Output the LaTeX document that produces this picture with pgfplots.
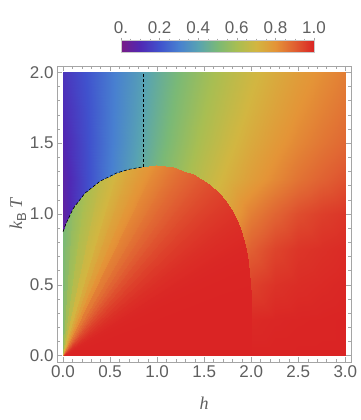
\documentclass[border=0pt]{standalone}
\usepackage{pgfplots}
\pgfplotsset{compat=1.18}
\usepackage{fontspec}
\setmainfont{Liberation Sans}
\newfontfamily\serifit{Liberation Serif}
\definecolor{lab}{RGB}{95,95,95}
\definecolor{frm}{RGB}{165,165,165}
\pgfplotsset{colormap={mmarainbow}{rgb255(0cm)=(120,28,134) rgb255(1cm)=(80,40,180) rgb255(2cm)=(64,82,205) rgb255(3cm)=(72,128,208) rgb255(4cm)=(88,163,178) rgb255(5cm)=(122,185,118) rgb255(6cm)=(168,190,82) rgb255(7cm)=(210,182,65) rgb255(8cm)=(228,148,55) rgb255(9cm)=(224,95,50) rgb255(10cm)=(218,36,36)}}
\begin{document}
\begin{tikzpicture}
\begin{axis}[
  at={(0,0)}, anchor=south west,
  scale only axis, width=294pt, height=296pt,
  xmin=-0.064, xmax=3.06, ymin=-0.045, ymax=2.045,
  xtick={0,0.5,1,1.5,2,2.5,3}, ytick={0,0.5,1,1.5,2},
  minor x tick num=4, minor y tick num=4,
  tick align=inside, major tick length=5pt, minor tick length=3pt,
  axis line style={frm}, every tick/.style={frm},
  /pgf/number format/assume math mode=true,
  /pgf/number format/.cd, fixed, fixed zerofill, precision=1, /pgfplots/.cd,
  ticklabel style={font=\fontsize{17}{19}\selectfont, text=lab},
  axis on top,
  colormap name=mmarainbow, point meta min=0, point meta max=1,
  colorbar horizontal,
  colorbar style={
    at={(parent axis.north west)}, anchor=south west, xshift=64pt, yshift=22pt,
    scale only axis, width=193pt, height=12pt,
    xtick={0,0.2,0.4,0.6,0.8,1}, xticklabels={0.,0.2,0.4,0.6,0.8,1.0},
    minor x tick num=3, xtick pos=right, xticklabel pos=upper,
    tick align=outside, major tick length=3pt, minor tick length=2pt,
    axis line style={frm!60}, every tick/.style={frm},
    ticklabel style={font=\fontsize{17}{19}\selectfont, text=lab},
  },
  every axis x label/.style={at={(axis description cs:0.5,-0.1385)}, anchor=center, text=lab},
  every axis y label/.style={at={(axis description cs:-0.1327,0.5)}, anchor=center, rotate=90, text=lab},
  xlabel={\fontsize{18}{20}\selectfont\serifit\itshape h},
  ylabel={\fontsize{18}{20}\selectfont{\serifit\itshape k}\raisebox{-0.22em}{\fontsize{13}{14}\selectfont B}\hspace{0.25em}{\serifit\itshape T}},
]
% outer field: columns h, T, value
\addplot[surf, shader=interp, mesh/rows=9, point meta=explicit] table[x index=0, y index=1, meta index=2] {
0 0 0.02
0.25 0 1
0.5 0 1
0.75 0 1
1 0 1
1.25 0 1
1.5 0 1
1.75 0 1
2 0 1
2.25 0 1
2.5 0 1
2.75 0 1
3 0 1
0 0.25 0.03
0.25 0.25 0.290
0.5 0.25 0.515
0.75 0.25 0.687
1 0.25 0.806
1.25 0.25 0.884
1.5 0.25 0.935
1.75 0.25 0.970
2 0.25 0.990
2.25 0.25 0.995
2.5 0.25 0.997
2.75 0.25 0.998
3 0.25 1.0
0 0.5 0.04
0.25 0.5 0.224
0.5 0.5 0.396
0.75 0.5 0.544
1 0.5 0.665
1.25 0.5 0.770
1.5 0.5 0.850
1.75 0.5 0.910
2 0.5 0.950
2.25 0.5 0.975
2.5 0.5 0.985
2.75 0.5 0.990
3 0.5 0.995
0 0.75 0.05
0.25 0.75 0.200
0.5 0.75 0.342
0.75 0.75 0.471
1 0.75 0.584
1.25 0.75 0.680
1.5 0.75 0.765
1.75 0.75 0.850
2 0.75 0.900
2.25 0.75 0.945
2.5 0.75 0.970
2.75 0.75 0.980
3 0.75 0.988
0 1 0.06
0.25 1 0.188
0.5 1 0.312
0.75 1 0.427
1 1 0.530
1.25 1 0.621
1.5 1 0.697
1.75 1 0.760
2 1 0.840
2.25 1 0.890
2.5 1 0.930
2.75 1 0.955
3 1 0.970
0 1.25 0.07
0.25 1.25 0.186
0.5 1.25 0.295
0.75 1.25 0.398
1 1.25 0.494
1.25 1.25 0.579
1.5 1.25 0.654
1.75 1.25 0.718
2 1.25 0.772
2.25 1.25 0.820
2.5 1.25 0.862
2.75 1.25 0.895
3 1.25 0.922
0 1.5 0.09
0.25 1.5 0.190
0.5 1.5 0.287
0.75 1.5 0.381
1 1.5 0.468
1.25 1.5 0.548
1.5 1.5 0.620
1.75 1.5 0.684
2 1.5 0.738
2.25 1.5 0.785
2.5 1.5 0.824
2.75 1.5 0.857
3 1.5 0.884
0 1.75 0.11
0.25 1.75 0.196
0.5 1.75 0.284
0.75 1.75 0.369
1 1.75 0.450
1.25 1.75 0.526
1.5 1.75 0.594
1.75 1.75 0.656
2 1.75 0.710
2.25 1.75 0.757
2.5 1.75 0.798
2.75 1.75 0.832
3 1.75 0.861
0 2 0.13
0.25 2 0.205
0.5 2 0.283
0.75 2 0.360
1 2 0.436
1.25 2 0.507
1.5 2 0.572
1.75 2 0.633
2 2 0.686
2.25 2 0.734
2.5 2 0.775
2.75 2 0.810
3 2 0.841
};
% inner (ordered) region: fan from origin to boundary
\addplot[surf, shader=interp, mesh/rows=2, point meta=explicit] table[x index=0, y index=1, meta index=2] {
0 0 0.5
0 0 0.516
0 0 0.553
0 0 0.600
0 0 0.653
0 0 0.708
0 0 0.744
0 0 0.778
0 0 0.814
0 0 0.853
0 0 0.877
0 0 0.896
0 0 0.913
0 0 0.930
0 0 0.945
0 0 0.958
0 0 0.969
0 0 0.978
0 0 0.985
0 0 0.990
0 0 0.995
0 0 0.997
0 0 0.998
0 0 0.999
0 0 1.0
0 0 1.0
0 0 1.0
0 0 1.0
0 0.875 0.5
0.03 0.93 0.516
0.11 1.04 0.553
0.233 1.147 0.600
0.39 1.23 0.653
0.57 1.29 0.708
0.7 1.315 0.744
0.834 1.331 0.778
0.993 1.343 0.814
1.17 1.33 0.853
1.28 1.305 0.877
1.38 1.284 0.896
1.47 1.25 0.913
1.56 1.206 0.930
1.645 1.155 0.945
1.72 1.10 0.958
1.785 1.035 0.969
1.84 0.97 0.978
1.88 0.9 0.985
1.91 0.83 0.990
1.94 0.745 0.995
1.965 0.66 0.997
1.98 0.585 0.998
1.99 0.51 0.999
1.997 0.42 1.0
2.0 0.3 1.0
2.0 0.15 1.0
2.0 0 1.0
};
% dashed lines
\addplot[black, line width=0.6pt, dash pattern=on 3pt off 2pt] coordinates {(0,0.875) (0.03,0.93) (0.11,1.04) (0.233,1.147) (0.39,1.23) (0.57,1.29) (0.7,1.315) (0.845,1.332)};
\addplot[black, line width=0.6pt, dash pattern=on 3pt off 2pt] coordinates {(0.85,1.332) (0.85,2.0)};
\end{axis}
\pgfresetboundingbox
\path[use as bounding box] (-57pt,-58pt) rectangle (303pt,362pt);
\end{tikzpicture}
\end{document}
